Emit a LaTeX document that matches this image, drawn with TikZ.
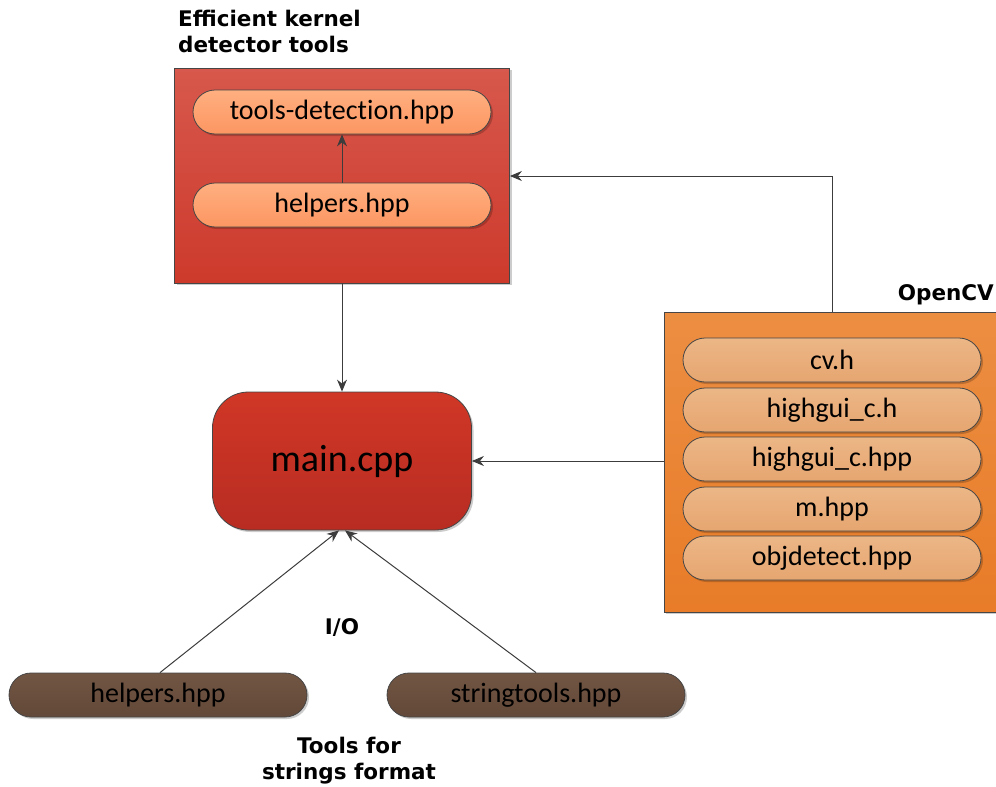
\documentclass[tikz,border=0pt]{standalone}
\usepackage{fontspec}
\setmainfont[Ligatures=NoCommon]{Carlito}
\newfontfamily\lblfont{DejaVu Sans}
\usetikzlibrary{arrows.meta,shadows}
\definecolor{redtop}{RGB}{215,88,76}
\definecolor{redbot}{RGB}{205,58,44}
\definecolor{maintop}{RGB}{208,55,38}
\definecolor{mainbot}{RGB}{184,44,34}
\definecolor{saltop}{RGB}{255,175,128}
\definecolor{salbot}{RGB}{252,150,98}
\definecolor{ortop}{RGB}{236,142,66}
\definecolor{orbot}{RGB}{232,124,40}
\definecolor{tantop}{RGB}{236,182,134}
\definecolor{tanbot}{RGB}{230,166,112}
\definecolor{brtop}{RGB}{114,86,68}
\definecolor{brbot}{RGB}{98,72,56}
\definecolor{edge}{RGB}{70,70,70}
\definecolor{arrcol}{RGB}{60,60,60}
\tikzset{
  x=1pt, y=-1pt,
  pill/.style={draw=edge, line width=0.8pt, minimum width=298pt, minimum height=44pt,
    rounded corners=22pt, inner sep=0pt, font=\fontsize{28}{30}\selectfont,
    drop shadow={shadow xshift=2pt, shadow yshift=-2pt, fill=black, opacity=0.2}},
  salpill/.style={pill, top color=saltop, bottom color=salbot},
  tanpill/.style={pill, top color=tantop, bottom color=tanbot},
  brpill/.style={pill, top color=brtop, bottom color=brbot, text=black},
  group/.style={draw=edge, line width=0.8pt, inner sep=0pt,
    drop shadow={shadow xshift=2pt, shadow yshift=-2pt, fill=black, opacity=0.2}},
  lbl/.style={font=\lblfont\bfseries\fontsize{21.5}{26}\selectfont, inner sep=0pt},
  arr/.style={draw=arrcol, line width=1pt, -{Stealth[length=12pt,width=10pt]}},
}
\begin{document}
\begin{tikzpicture}
\useasboundingbox (0,0) rectangle (996,787);
% red group
\node[group, top color=redtop, bottom color=redbot, minimum width=335pt, minimum height=215pt] (redbox) at (342,175.5) {};
\node[lbl, align=left, anchor=north west] (redlbl) at (178,10) {Efficient kernel\\detector tools};
\node[salpill] (td) at (342,112) {tools-detection.hpp};
\node[salpill] (hp) at (342,205) {helpers.hpp};
% main
\node[draw=edge, line width=0.8pt, top color=maintop, bottom color=mainbot, minimum width=259pt, minimum height=138pt, rounded corners=36pt, font=\fontsize{38}{40}\selectfont, drop shadow={shadow xshift=2pt, shadow yshift=-2pt, fill=black, opacity=0.2}] (main) at (342,461) {main.cpp};
% OpenCV group
\node[group, top color=ortop, bottom color=orbot, minimum width=332pt, minimum height=300pt] (ocv) at (830,462) {};
\node[lbl, anchor=east] (ocvlbl) at (994,295) {OpenCV};
\node[tanpill] (cv) at (832,360) {cv.h};
\node[tanpill] (hg) at (832,410) {highgui\_c.h};
\node[tanpill] (hgp) at (832,459) {highgui\_c.hpp};
\node[tanpill] (mh) at (832,509) {m.hpp};
\node[tanpill] (od) at (832,558) {objdetect.hpp};
% bottom
\node[brpill] (bh) at (158,695) {helpers.hpp};
\node[brpill] (st) at (536,695) {stringtools.hpp};
\node[lbl] (io) at (342,628) {I/O};
\node[lbl, align=center] (tools) at (349,761) {Tools for\\strings format};
% connectors
\coordinate (bend) at (832,176);
\draw[arr] (hp.north) -- (td.south);
\draw[arr] (redbox.south) -- (main.north);
\draw[arr] (ocv.north -| bend) -- (bend) -- (redbox.east |- bend);
\draw[arr] (ocv.west |- main) -- (main.east);
\draw[arr] ([xshift=2pt]bh.north) -- ([xshift=-3pt]main.south);
\draw[arr] (st.north) -- ([xshift=3pt]main.south);
\end{tikzpicture}
\end{document}
